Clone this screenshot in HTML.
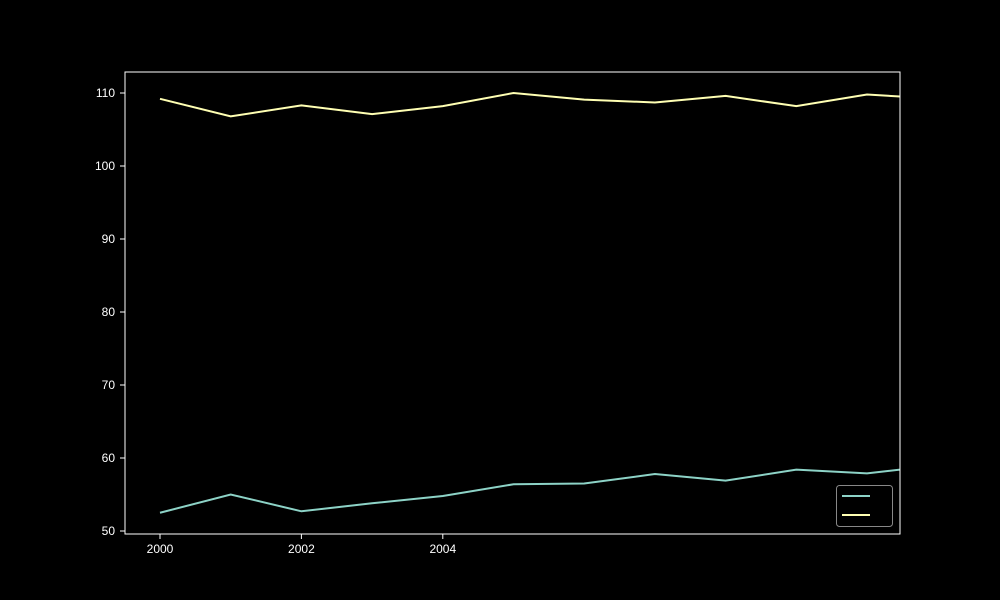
<!DOCTYPE html>
<html><head><meta charset="utf-8"><style>
html,body{margin:0;padding:0;background:#000;}
svg{display:block;font-family:"Liberation Sans","Noto Sans CJK SC",sans-serif;}
</style></head><body>
<svg id="chart" width="1000" height="600">
<rect width="1000" height="600" fill="#000"/>
<defs><clipPath id="plotclip"><rect x="125" y="72" width="775" height="462"/></clipPath></defs>
<g id="axes"></g>
<g id="series" clip-path="url(#plotclip)"></g>
<rect x="125" y="72" width="775" height="462" fill="none" stroke="#fff" stroke-width="1"/>
<g>
<rect x="836.5" y="485.5" width="56" height="41" rx="3" fill="#000" stroke="#888"/>
<line x1="842" y1="496" x2="870" y2="496" stroke="#8dd3c7" stroke-width="2"/>
<line x1="842" y1="515" x2="870" y2="515" stroke="#ffffb3" stroke-width="2"/>
</g>
</svg>
<script>
const years = [2000,2001,2002,2003,2004,2005,2006,2007,2008,2009,2010,2011];
const seriesA = [52.5,55.0,52.7,53.8,54.8,56.4,56.5,57.8,56.9,58.4,57.9,59.0];
const seriesB = [109.2,106.8,108.3,107.1,108.2,110.0,109.1,108.7,109.6,108.2,109.8,109.2];
const yTicks = [50,60,70,80,90,100,110];
const xTicks = [2000,2002,2004];
const NS = "http://www.w3.org/2000/svg";
function xS(v){return 160 + (v-2000)*70.7;}
function yS(v){return 531 - (v-50)*7.3;}
const axes = document.getElementById('axes');
const series = document.getElementById('series');
yTicks.forEach(t=>{
  const y = yS(t);
  const l = document.createElementNS(NS,'line');
  l.setAttribute('x1',120);l.setAttribute('x2',125);l.setAttribute('y1',y);l.setAttribute('y2',y);
  l.setAttribute('stroke','#fff');
  
  
  axes.appendChild(l);
  const tx = document.createElementNS(NS,'text');
  tx.setAttribute('x',115);tx.setAttribute('y',y+4);tx.setAttribute('text-anchor','end');
  tx.setAttribute('fill','#fff');tx.setAttribute('font-size','12');
  tx.textContent = t;
  
  
  axes.appendChild(tx);
});
xTicks.forEach(t=>{
  const x = xS(t);
  const l = document.createElementNS(NS,'line');
  l.setAttribute('x1',x);l.setAttribute('x2',x);l.setAttribute('y1',534);l.setAttribute('y2',539);
  l.setAttribute('stroke','#fff');
  
  
  axes.appendChild(l);
  const tx = document.createElementNS(NS,'text');
  tx.setAttribute('x',x);tx.setAttribute('y',553);tx.setAttribute('text-anchor','middle');
  tx.setAttribute('fill','#fff');tx.setAttribute('font-size','12');
  tx.textContent = t;
  
  
  axes.appendChild(tx);
});
function draw(vals,color,name){
  const p = document.createElementNS(NS,'polyline');
  p.setAttribute('points', vals.map((v,i)=>xS(years[i])+','+yS(v)).join(' '));
  p.setAttribute('fill','none');p.setAttribute('stroke',color);p.setAttribute('stroke-width','2');
  
  
  series.appendChild(p);
}
draw(seriesA,'#8dd3c7','series-1-line');
draw(seriesB,'#ffffb3','series-2-line');
</script>
</body></html>
